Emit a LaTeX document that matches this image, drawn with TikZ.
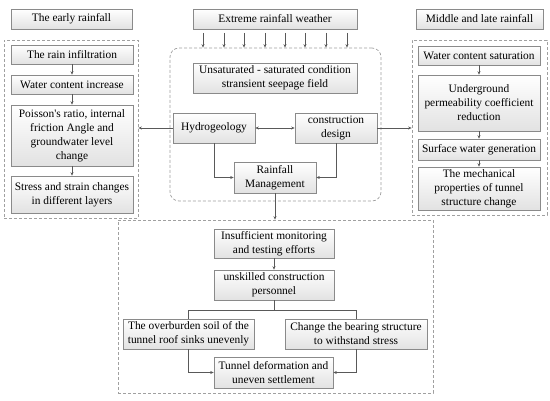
\documentclass[tikz,border=0pt]{standalone}
\usepackage{fontspec}
\setmainfont{Liberation Serif}[Ligatures=TeXOff]
\usetikzlibrary{arrows.meta,shadows}
\definecolor{linec}{HTML}{595959}
\definecolor{boxc}{HTML}{8A8A8A}
\definecolor{dashc}{HTML}{A0A0A0}
\definecolor{shadec}{HTML}{E2E2E2}
\tikzset{
  box/.style={draw=boxc, line width=0.6pt, top color=white, bottom color=shadec,
    inner sep=0pt, align=center, font=\fontsize{11.4}{14}\selectfont,
    drop shadow={shadow xshift=0.8pt, shadow yshift=-0.8pt, opacity=0.35, fill=gray}},
  cont/.style={draw=dashc, line width=0.7pt, dash pattern=on 3pt off 2pt, inner sep=0pt},
  arr/.style={draw=linec, line width=0.6pt, -{Stealth[length=3.5pt,width=3pt]}},
  dbl/.style={draw=linec, line width=0.6pt, {Stealth[length=3.5pt,width=3pt]}-{Stealth[length=3.5pt,width=3pt]}},
  ln/.style={draw=linec, line width=0.6pt},
}
\begin{document}
\begin{tikzpicture}[x=1pt,y=-1pt]
\useasboundingbox (0,0) rectangle (550,401);
% containers
\node[cont, minimum width=134pt, minimum height=178pt] (leftc) at (71,129) {};
\node[cont, rounded corners=9pt, minimum width=211pt, minimum height=153pt] (midc) at (275.5,124.5) {};
\node[cont, minimum width=135pt, minimum height=175pt] (rightc) at (479.5,127.5) {};
\node[cont, minimum width=315pt, minimum height=173pt] (lowc) at (275.5,306.5) {};
% top headers
\node[box, minimum width=121pt, minimum height=20pt] (early) at (71.5,19) {The early rainfall};
\node[box, minimum width=164pt, minimum height=20pt] (extreme) at (275,19) {Extreme rainfall weather};
\node[box, minimum width=127pt, minimum height=20pt] (midlate) at (479.5,19) {Middle and late rainfall};
% left column
\node[box, minimum width=122pt, minimum height=19pt] (infil) at (72,54.5) {The rain infiltration};
\node[box, minimum width=122pt, minimum height=19pt] (incr) at (72,84.5) {Water content increase};
\node[box, minimum width=122pt, minimum height=61pt] (poisson) at (72,135.5) {Poisson's ratio, internal\\friction Angle and\\groundwater level\\change};
\node[box, minimum width=122pt, minimum height=37pt] (stress) at (72,194.5) {Stress and strain changes\\in different layers};
% middle
\node[box, minimum width=164pt, minimum height=30pt] (unsat) at (275,78) {Unsaturated - saturated condition\\stransient seepage field};
\node[box, minimum width=82pt, minimum height=30pt] (hydro) at (214,128) {Hydrogeology};
\node[box, minimum width=82pt, minimum height=30pt] (constr) at (336,128) {construction\\design};
\node[box, minimum width=82pt, minimum height=31pt] (rm) at (275,177.5) {Rainfall\\Management};
% right column
\node[box, minimum width=122pt, minimum height=19pt] (sat) at (479,55.5) {Water content saturation};
\node[box, minimum width=122pt, minimum height=56pt] (under) at (479,103) {Underground\\permeability coefficient\\reduction};
\node[box, minimum width=122pt, minimum height=21pt] (surf) at (479,149.5) {Surface water generation};
\node[box, minimum width=122pt, minimum height=43pt] (mech) at (479,188.5) {The mechanical\\properties of tunnel\\structure change};
% lower
\node[box, minimum width=120pt, minimum height=29pt] (insuf) at (274,243.5) {Insufficient monitoring\\and testing efforts};
\node[box, minimum width=120pt, minimum height=30pt] (unsk) at (274,285) {unskilled construction\\personnel};
\node[box, minimum width=131pt, minimum height=30pt] (overb) at (188.5,334) {The overburden soil of the\\tunnel roof sinks unevenly};
\node[box, minimum width=142pt, minimum height=30pt] (change) at (356,334) {Change the bearing structure\\to withstand stress};
\node[box, minimum width=119pt, minimum height=31pt] (tunnel) at (273.5,372.5) {Tunnel deformation and\\uneven settlement};
% rain arrows
\foreach \x in {203,224,244,265,285,305,326,347}
  \draw[arr] ([yshift=-3.5pt]\x,0 |- extreme.south) -- (\x,0 |- midc.north);
% left / right column arrows
\draw[arr] (infil) -- (incr);
\draw[arr] (incr) -- (poisson);
\draw[arr] (poisson) -- (stress);
\draw[arr] (sat) -- (under);
\draw[arr] (under) -- (surf);
\draw[arr] (surf) -- (mech);
% middle connectors
\draw[dbl] (hydro) -- (constr);
\draw[arr] (hydro.west) -- (leftc.east |- hydro.west);
\draw[arr] (constr.east) -- (rightc.west |- constr.east);
\draw[arr] (hydro.south) |- (rm.west);
\draw[arr] (constr.south) |- (rm.east);
\draw[arr] (rm.south) -- (rm.south |- lowc.north);
% lower connectors
\draw[arr] (insuf) -- (unsk);
\draw[ln] (unsk.south) -- ++(0,10) coordinate (fork);
\draw[ln] (fork) -| (overb.north);
\draw[ln] (fork) -| (change.north);
\draw[arr] (overb.south) |- (tunnel.west);
\draw[arr] (change.south) |- (tunnel.east);
\end{tikzpicture}
\end{document}
